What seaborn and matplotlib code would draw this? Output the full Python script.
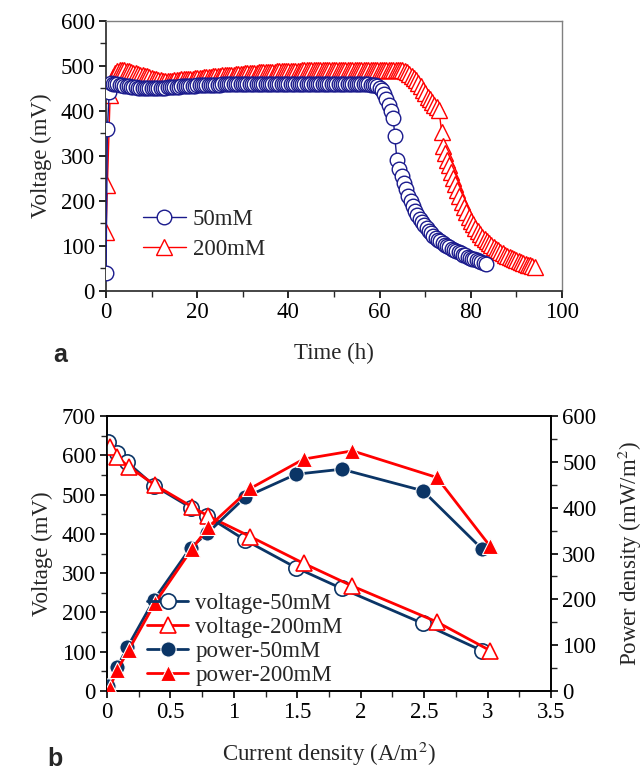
import numpy as np
import pandas as pd
import matplotlib
matplotlib.use("Agg")
import matplotlib.pyplot as plt
from matplotlib.ticker import MultipleLocator, FuncFormatter
from matplotlib.lines import Line2D
import seaborn as sns

# ---------------- (a) cell voltage over time ----------------
time_50mM = [
    0, 0.3, 0.7,
    1.0, 1.5, 2.0, 2.5, 3.0, 3.5, 4.0, 4.5, 5.0, 5.5,
    6.0, 6.5, 7.0, 7.5, 8.0, 8.5, 9.0, 9.5, 10.0, 10.5,
    11.0, 11.5, 12.0, 12.5, 13.0, 13.5, 14.0, 14.5, 15.0, 15.5,
    16.0, 16.5, 17.0, 17.5, 18.0, 18.5, 19.0, 19.5, 20.0, 20.5,
    21.0, 21.5, 22.0, 22.5, 23.0, 23.5, 24.0, 24.5, 25.0, 25.5,
    26.0, 26.5, 27.0, 27.5, 28.0, 28.5, 29.0, 29.5, 30.0, 30.5,
    31.0, 31.5, 32.0, 32.5, 33.0, 33.5, 34.0, 34.5, 35.0, 35.5,
    36.0, 36.5, 37.0, 37.5, 38.0, 38.5, 39.0, 39.5, 40.0, 40.5,
    41.0, 41.5, 42.0, 42.5, 43.0, 43.5, 44.0, 44.5, 45.0, 45.5,
    46.0, 46.5, 47.0, 47.5, 48.0, 48.5, 49.0, 49.5, 50.0, 50.5,
    51.0, 51.5, 52.0, 52.5, 53.0, 53.5, 54.0, 54.5, 55.0, 55.5,
    56.0, 56.5, 57.0, 57.5, 58.0, 58.5, 59.0, 59.5, 60.0,
    60.5, 61.0, 61.5, 62.0, 62.5, 63.0, 63.3, 63.8,
    64.3, 64.8, 65.3, 65.8, 66.3, 66.8, 67.3, 67.8, 68.3, 68.8,
    69.3, 69.8, 70.3, 70.8, 71.3, 71.8, 72.3, 72.8, 73.3, 73.8,
    74.3, 74.8, 75.3, 75.8, 76.3, 76.8, 77.3, 77.8, 78.3, 78.8,
    79.3, 79.8, 80.3, 80.8, 81.3, 81.8, 82.3, 82.8, 83.3,
]
voltage_50mM = [
    40, 360, 442,
    462, 461, 460, 459, 458, 457, 456, 455, 455, 454,
    453, 453, 452, 452, 452, 451, 451, 451, 451, 451,
    451, 451, 452, 452, 452, 453, 453, 453, 454, 454,
    454, 455, 455, 455, 456, 456, 456, 456, 457, 457,
    457, 457, 457, 458, 458, 458, 458, 458, 458, 459,
    459, 459, 459, 459, 459, 459, 459, 459, 459, 459,
    460, 459, 460, 460, 459, 460, 460, 460, 459, 460,
    460, 460, 460, 461, 460, 460, 461, 460, 460, 461,
    461, 460, 461, 461, 460, 461, 461, 461, 460, 461,
    461, 461, 460, 461, 461, 461, 461, 460, 461, 460,
    461, 461, 460, 460, 461, 460, 460, 459, 459, 459,
    459, 459, 459, 459, 458, 458, 457, 455, 452,
    447, 438, 427, 414, 399, 384, 345, 291,
    272, 256, 241, 226, 212, 199, 188, 178, 168, 160,
    153, 146, 139, 133, 128, 123, 118, 114, 110, 106,
    103, 100, 97, 94, 91, 89, 86, 84, 81, 79,
    76, 74, 72, 70, 68, 66, 64, 62, 60,
]

time_200mM = [
    0, 0.3, 0.9, 1.2,
    1.5, 2.0, 2.5, 3.0, 3.5, 4.0, 4.5, 5.0, 5.5, 6.0,
    6.5, 7.0, 7.5, 8.0, 8.5, 9.0, 9.5, 10.0, 10.5, 11.0,
    11.5, 12.0, 12.5, 13.0, 13.5, 14.0, 14.5, 15.0, 15.5, 16.0,
    16.5, 17.0, 17.5, 18.0, 18.5, 19.0, 19.5, 20.0, 20.5, 21.0,
    21.5, 22.0, 22.5, 23.0, 23.5, 24.0, 24.5, 25.0, 25.5, 26.0,
    26.5, 27.0, 27.5, 28.0, 28.5, 29.0, 29.5, 30.0, 30.5, 31.0,
    31.5, 32.0, 32.5, 33.0, 33.5, 34.0, 34.5, 35.0, 35.5, 36.0,
    36.5, 37.0, 37.5, 38.0, 38.5, 39.0, 39.5, 40.0, 40.5, 41.0,
    41.5, 42.0, 42.5, 43.0, 43.5, 44.0, 44.5, 45.0, 45.5, 46.0,
    46.5, 47.0, 47.5, 48.0, 48.5, 49.0, 49.5, 50.0, 50.5, 51.0,
    51.5, 52.0, 52.5, 53.0, 53.5, 54.0, 54.5, 55.0, 55.5, 56.0,
    56.5, 57.0, 57.5, 58.0, 58.5, 59.0, 59.5, 60.0, 60.5, 61.0,
    61.5, 62.0, 62.5, 63.0, 63.5, 64.0, 64.5, 65.0,
    65.5, 66.0, 66.5, 67.0, 67.5, 68.0, 68.5, 69.0,
    69.5, 70.0, 70.5, 71.0, 71.5, 72.0, 72.5, 73.0,
    73.6, 74.0, 74.4, 74.8, 75.2, 75.6, 76.0,
    76.5, 77.0, 77.5, 78.0, 78.5, 79.0, 79.5, 80.0, 80.5, 81.0,
    81.5, 82.0, 82.5, 83.0, 83.5, 84.0, 84.5, 85.0, 85.5, 86.0,
    86.5, 87.0, 87.5, 88.0, 88.5, 89.0, 89.5, 90.0, 90.5, 91.0,
    91.5, 92.0, 92.5, 93.0, 93.5, 94.0,
]
voltage_200mM = [
    130, 235, 435, 462,
    476, 484, 489, 491, 491, 490, 489, 488, 487, 485,
    484, 483, 481, 480, 478, 477, 475, 474, 472, 471,
    469, 468, 467, 466, 466, 467, 467, 468, 469, 469,
    470, 470, 471, 471, 472, 472, 473, 473, 474, 474,
    475, 475, 476, 476, 477, 477, 478, 478, 479, 479,
    480, 480, 481, 481, 482, 482, 483, 483, 484, 484,
    484, 485, 485, 485, 486, 486, 486, 486, 487, 487,
    487, 487, 488, 488, 488, 488, 488, 489, 489, 489,
    489, 489, 489, 490, 490, 490, 490, 490, 490, 490,
    491, 490, 491, 491, 491, 490, 491, 491, 491, 491,
    492, 491, 491, 492, 491, 492, 492, 491, 492, 492,
    492, 491, 492, 492, 492, 492, 491, 492, 492, 492,
    491, 492, 492, 491, 491, 490, 490, 490,
    489, 486, 482, 478, 474, 469, 462, 455,
    447, 440, 432, 426, 420, 414, 408, 402,
    354, 322, 306, 292, 279, 265, 252,
    238, 224, 210, 198, 186, 175, 165, 156, 148, 140,
    133, 127, 121, 116, 111, 106, 102, 98, 94, 90,
    87, 84, 81, 78, 76, 73, 71, 68, 66, 64,
    62, 60, 58, 57, 55, 53,
]

# ---------------- (b) polarization and power curves ----------------
current_50mM = [0.005, 0.08, 0.16, 0.37, 0.66, 0.79, 1.09, 1.49, 1.85, 2.49, 2.96]
volt_curve_50mM = [634, 606, 582, 523, 467, 445, 384, 314, 261, 172, 102]
power_50mM = [11, 52, 95, 199, 313, 344, 423, 473, 484, 437, 309]

current_200mM = [0.02, 0.08, 0.17, 0.38, 0.67, 0.80, 1.13, 1.55, 1.935, 2.60, 3.02]
volt_curve_200mM = [620, 596, 571, 524, 469, 445, 393, 325, 267, 176, 103]
power_200mM = [6, 46, 89, 193, 310, 358, 442, 506, 524, 466, 316]

NAVY_A = "#1a1a8c"
NAVY_B = "#0b3566"
RED = "#ff0000"

sns.set_style("ticks")
plt.rcParams["font.family"] = ["Liberation Serif", "DejaVu Serif"]
plt.rcParams["mathtext.fontset"] = "stix"
plt.rcParams["axes.linewidth"] = 1.2

fig = plt.figure(figsize=(6.43, 7.72), dpi=100)

FS = 16.5

# ---------- panel a ----------
ax1 = fig.add_axes([0.1649, 0.6231, 0.7092, 0.3497])
df50 = pd.DataFrame({"t": time_50mM, "v": voltage_50mM})
df200 = pd.DataFrame({"t": time_200mM, "v": voltage_200mM})

sns.lineplot(data=df50, x="t", y="v", ax=ax1, estimator=None, sort=False,
             color=NAVY_A, linewidth=1.0, marker="o", markersize=10.5,
             markerfacecolor="white", markeredgecolor=NAVY_A,
             markeredgewidth=1.0, label="50mM", zorder=3)
sns.lineplot(data=df200, x="t", y="v", ax=ax1, estimator=None, sort=False,
             color=RED, linewidth=1.0, marker="^", markersize=11,
             markerfacecolor="white", markeredgecolor=RED,
             markeredgewidth=1.0, label="200mM", zorder=2)

ax1.set_xlim(0, 100)
ax1.set_ylim(0, 600)
ax1.xaxis.set_major_locator(MultipleLocator(20))
ax1.xaxis.set_minor_locator(MultipleLocator(10))
ax1.yaxis.set_major_locator(MultipleLocator(100))
ax1.yaxis.set_minor_locator(MultipleLocator(50))
ax1.tick_params(which="major", direction="out", length=5, width=1.2,
                labelsize=FS, colors="black", pad=3)
ax1.tick_params(which="minor", direction="out", length=4, width=1.0)
ax1.tick_params(top=False, right=False, which="both")
for side in ("top", "right"):
    ax1.spines[side].set_color("#808080")
    ax1.spines[side].set_linewidth(1.0)
ax1.set_xlabel("Time (h)", fontsize=FS, labelpad=14)
ax1.set_ylabel("Voltage (mV)", fontsize=FS, labelpad=6)
ax1.legend(loc="upper left", bbox_to_anchor=(0.07, 0.32), frameon=False,
           fontsize=FS, handlelength=1.9, handletextpad=0.3,
           labelspacing=0.4, borderaxespad=0, borderpad=0.2)

# ---------- panel b ----------
ax2 = fig.add_axes([0.1664, 0.1049, 0.6905, 0.3562])
ax3 = ax2.twinx()

sns.lineplot(x=current_50mM, y=volt_curve_50mM, ax=ax2, estimator=None, sort=False,
             color=NAVY_B, linewidth=2.0, marker="o", markersize=11,
             markerfacecolor="white", markeredgecolor=NAVY_B, markeredgewidth=1.2,
             zorder=3)
sns.lineplot(x=current_200mM, y=volt_curve_200mM, ax=ax2, estimator=None, sort=False,
             color=RED, linewidth=2.0, marker="^", markersize=12,
             markerfacecolor="white", markeredgecolor=RED, markeredgewidth=1.2,
             zorder=4)
sns.lineplot(x=current_50mM, y=power_50mM, ax=ax3, estimator=None, sort=False,
             color=NAVY_B, linewidth=2.0, marker="o", markersize=11,
             markerfacecolor=NAVY_B, markeredgecolor="white", markeredgewidth=0.8,
             zorder=3)
sns.lineplot(x=current_200mM, y=power_200mM, ax=ax3, estimator=None, sort=False,
             color=RED, linewidth=2.0, marker="^", markersize=12,
             markerfacecolor=RED, markeredgecolor="white", markeredgewidth=0.8,
             zorder=4)

ax2.set_xlim(0, 3.5)
ax2.set_ylim(0, 700)
ax3.set_ylim(0, 600)
ax2.xaxis.set_major_locator(MultipleLocator(0.5))
ax2.xaxis.set_minor_locator(MultipleLocator(0.25))
ax2.xaxis.set_major_formatter(FuncFormatter(lambda v, p: f"{v:g}"))
ax2.yaxis.set_major_locator(MultipleLocator(100))
ax2.yaxis.set_minor_locator(MultipleLocator(50))
ax3.yaxis.set_major_locator(MultipleLocator(100))
ax3.yaxis.set_minor_locator(MultipleLocator(50))
for a in (ax2, ax3):
    a.tick_params(which="major", direction="out", length=5, width=1.2,
                  labelsize=FS, colors="black", pad=3)
    a.tick_params(which="minor", direction="out", length=4, width=1.0)
ax2.tick_params(top=False, right=False, which="both")
ax3.tick_params(left=False, which="both")
for a in (ax2, ax3):
    for s in a.spines.values():
        s.set_color("black")
        s.set_linewidth(1.2)

ax2.set_xlabel("Current density (A/m$^{2}$)", fontsize=FS, labelpad=12)
ax2.set_ylabel("Voltage (mV)", fontsize=FS, labelpad=6)
ax3.set_ylabel("Power density (mW/m$^{2}$)", fontsize=FS, labelpad=14)

handles = [
    Line2D([], [], color=NAVY_B, lw=2.0, marker="o", markersize=11,
           markerfacecolor="white", markeredgecolor=NAVY_B, markeredgewidth=1.2),
    Line2D([], [], color=RED, lw=2.0, marker="^", markersize=12,
           markerfacecolor="white", markeredgecolor=RED, markeredgewidth=1.2),
    Line2D([], [], color=NAVY_B, lw=2.0, marker="o", markersize=11,
           markerfacecolor=NAVY_B, markeredgecolor="white", markeredgewidth=0.8),
    Line2D([], [], color=RED, lw=2.0, marker="^", markersize=12,
           markerfacecolor=RED, markeredgecolor="white", markeredgewidth=0.8),
]
labels = ["voltage-50mM", "voltage-200mM", "power-50mM", "power-200mM"]
ax3.legend(handles, labels, loc="lower left", bbox_to_anchor=(0.085, 0.01),
           frameon=False, fontsize=FS, handlelength=1.8, handletextpad=0.3,
           labelspacing=0.13, borderaxespad=0, borderpad=0.1)

# panel letters
fig.text(60 / 643, 1 - 355 / 772, "a", fontsize=18, fontweight="bold",
         family="Liberation Sans", ha="center", va="center")
fig.text(55 / 643, 1 - 759 / 772, "b", fontsize=18, fontweight="bold",
         family="Liberation Sans", ha="center", va="center")

fig.savefig("out.png", dpi=100)
